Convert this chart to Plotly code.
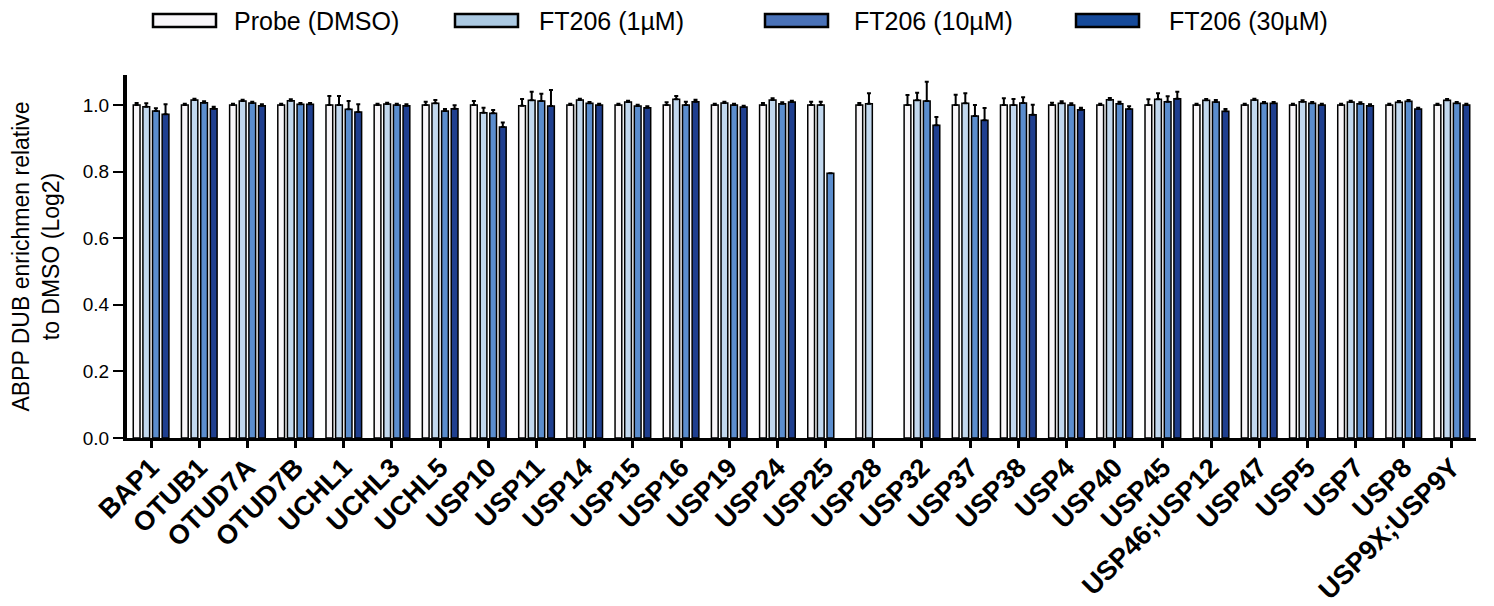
import plotly.graph_objects as go

categories = ["BAP1", "OTUB1", "OTUD7A", "OTUD7B", "UCHL1", "UCHL3", "UCHL5", "USP10",
              "USP11", "USP14", "USP15", "USP16", "USP19", "USP24", "USP25", "USP28",
              "USP32", "USP37", "USP38", "USP4", "USP40", "USP45", "USP46;USP12", "USP47",
              "USP5", "USP7", "USP8", "USP9X;USP9Y"]

dmso = [1.0, 1.0, 1.0, 1.0, 1.0, 1.0, 1.0, 1.0,
        0.998, 1.0, 1.0, 1.0, 1.0, 1.0, 1.0, 1.0,
        1.0, 1.0, 1.0, 1.0, 1.0, 1.0, 1.0, 1.0,
        1.0, 1.0, 1.0, 1.0]
dmso_err = [0.006, 0.004, 0.004, 0.004, 0.027, 0.004, 0.010, 0.012,
            0.020, 0.004, 0.004, 0.008, 0.004, 0.006, 0.010, 0.006,
            0.030, 0.031, 0.020, 0.007, 0.004, 0.017, 0.004, 0.004,
            0.004, 0.004, 0.004, 0.004]

ft1 = [0.995, 1.015, 1.012, 1.013, 1.0, 1.003, 1.005, 0.977,
       1.014, 1.015, 1.009, 1.017, 1.006, 1.015, 1.0, 1.004,
       1.014, 1.005, 1.0, 1.005, 1.016, 1.017, 1.014, 1.015,
       1.010, 1.009, 1.008, 1.014]
ft1_err = [0.010, 0.004, 0.004, 0.004, 0.027, 0.004, 0.010, 0.015,
           0.026, 0.004, 0.004, 0.010, 0.004, 0.005, 0.010, 0.031,
           0.023, 0.030, 0.018, 0.006, 0.005, 0.018, 0.004, 0.004,
           0.004, 0.004, 0.004, 0.004]

ft10 = [0.982, 1.007, 1.006, 1.002, 0.987, 1.0, 0.982, 0.975,
        1.012, 1.005, 0.997, 1.0, 1.0, 1.004, 0.795, None,
        1.012, 0.967, 1.006, 1.0, 1.004, 1.010, 1.009, 1.005,
        1.005, 1.004, 1.011, 1.005]
ft10_err = [0.008, 0.004, 0.004, 0.004, 0.025, 0.004, 0.006, 0.010,
            0.022, 0.004, 0.004, 0.010, 0.004, 0.004, 0.0, None,
            0.058, 0.033, 0.017, 0.005, 0.006, 0.016, 0.006, 0.004,
            0.004, 0.004, 0.004, 0.004]

ft30 = [0.972, 0.989, 0.998, 1.002, 0.979, 0.998, 0.989, 0.934,
        0.997, 1.0, 0.992, 1.010, 0.994, 1.009, None, None,
        0.939, 0.954, 0.971, 0.986, 0.988, 1.019, 0.981, 1.005,
        1.0, 0.998, 0.988, 1.0]
ft30_err = [0.030, 0.006, 0.004, 0.004, 0.023, 0.004, 0.010, 0.013,
            0.048, 0.004, 0.004, 0.006, 0.004, 0.004, None, None,
            0.025, 0.037, 0.030, 0.006, 0.008, 0.021, 0.007, 0.004,
            0.004, 0.004, 0.004, 0.004]

series_names = ["Probe (DMSO)", "FT206 (1µM)", "FT206 (10µM)", "FT206 (30µM)"]
bar_colors = ["#f8f6f9", "#c2d8ee", "#5b8dcd", "#1f3f8f"]
legend_colors = ["#f8f6f9", "#abc9e2", "#4a72b8", "#164a9a"]
y_ticks = [0.0, 0.2, 0.4, 0.6, 0.8, 1.0]

FONT = "Liberation Sans, Arial, Helvetica, sans-serif"

fig = go.Figure()
for name, vals, errs, col in zip(series_names, [dmso, ft1, ft10, ft30],
                                 [dmso_err, ft1_err, ft10_err, ft30_err], bar_colors):
    fig.add_trace(go.Bar(
        x=categories, y=vals, name=name,
        marker=dict(color=col, line=dict(color="black", width=1.5)),
        error_y=dict(type="data", symmetric=False, array=errs,
                     arrayminus=[0] * len(errs), color="black", thickness=2, width=2),
        showlegend=False,
    ))

W, H = 1494, 606
L, R, T, B = 127, 18, 75, 168
pw, ph = W - L - R, H - T - B

def px2paper(xp, yp):
    return (xp - L) / pw, (H - B - yp) / ph

# manual legend (long rectangular swatches)
swatch_x = [153, 455, 765, 1076]
text_x = [232, 537, 852, 1167]
for sx, tx, name, col in zip(swatch_x, text_x, series_names, legend_colors):
    x0, y0 = px2paper(sx, 27)
    x1, y1 = px2paper(sx + 63, 14)
    fig.add_shape(type="rect", xref="paper", yref="paper", x0=x0, x1=x1, y0=y0, y1=y1,
                  fillcolor=col, line=dict(color="black", width=2.5))
    ax, ay = px2paper(tx, 21)
    fig.add_annotation(xref="paper", yref="paper", x=ax, y=ay, text=name,
                       showarrow=False, xanchor="left", yanchor="middle",
                       font=dict(family=FONT, size=25, color="black"))

fig.update_layout(
    width=W, height=H,
    margin=dict(l=L, r=R, t=T, b=B),
    plot_bgcolor="white", paper_bgcolor="white",
    barmode="group", bargap=0.2, bargroupgap=0.3,
    font=dict(family=FONT, color="black"),
)
fig.update_xaxes(
    type="category", range=[-0.5, len(categories) - 0.5], automargin=False,
    showline=True, linecolor="black", linewidth=3,
    ticks="outside", ticklen=7, tickwidth=3, tickcolor="black",
    tickangle=-45, ticklabelstandoff=-7,
    tickfont=dict(family=FONT, size=27, color="black", weight="bold"),
    showgrid=False, zeroline=False,
)
fig.update_yaxes(
    range=[0, 1.09], tickvals=y_ticks, tickformat=".1f", automargin=False,
    showline=True, linecolor="black", linewidth=4,
    ticks="outside", ticklen=10, tickwidth=2, tickcolor="black",
    tickfont=dict(family=FONT, size=19, color="black"),
    showgrid=False, zeroline=False,
    title=dict(text="ABPP DUB enrichmen relative<br>to DMSO (Log2)",
               font=dict(family=FONT, size=23, color="black"), standoff=18),
)

fig.write_html("out.html", post_script="document.body.style.margin='0';",
               config={"displayModeBar": False})
